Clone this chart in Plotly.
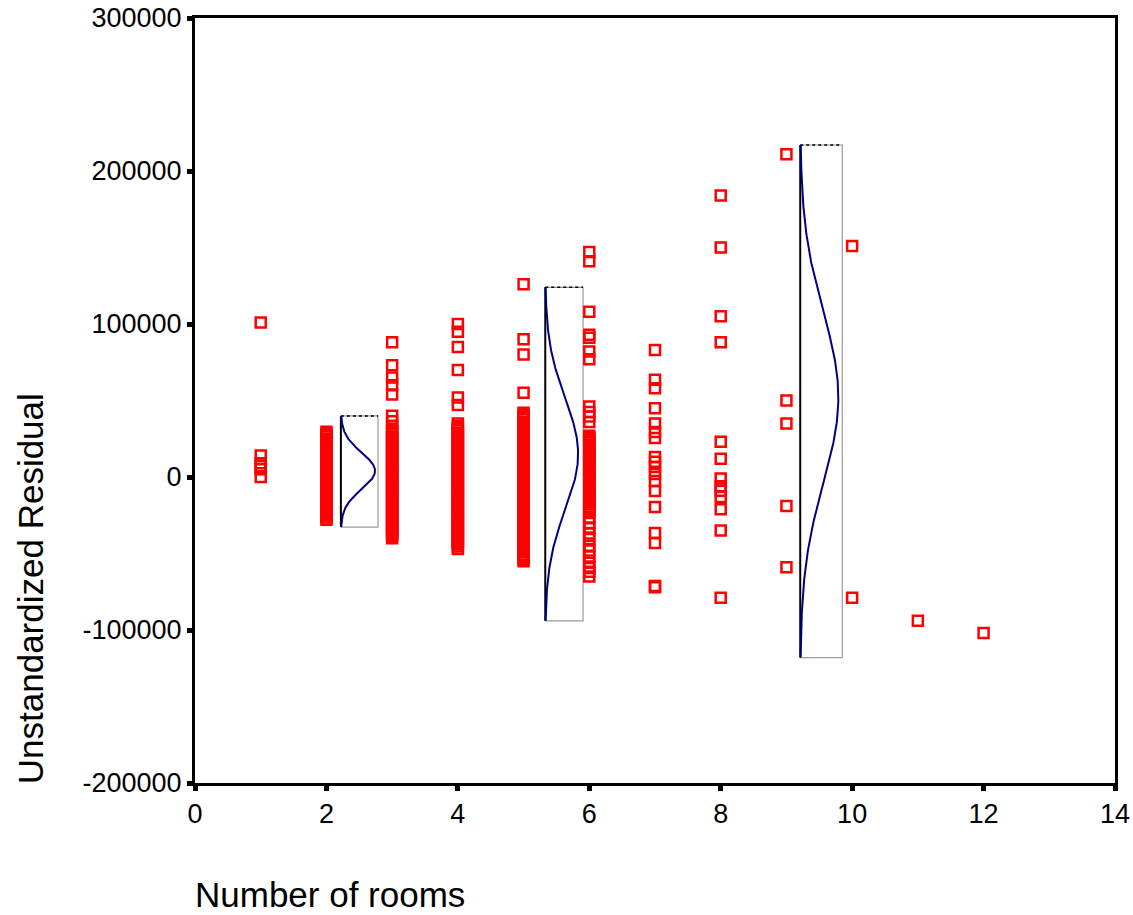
import plotly.graph_objects as go
import numpy as np

# ---- data: residuals by number of rooms ----
rooms_1 = [101000, 14000, 9000, 7000, 5000, 0]
rooms_2 = [29500, 28000, 26800, 25200, 24000, 22500, 21000, 19800, 18300, 17000, 15500, 14000,
           12800, 11200, 10000, 8500, 7000, 5800, 4300, 3000, 1500, 200, -1200, -2600, -4000,
           -5500, -6800, -8200, -9600, -11000, -12500, -13800, -15200, -16600, -18000, -19400,
           -20800, -22200, -23500, -25000, -26500, -28000]
rooms_3 = [88000, 73000, 65000, 60000, 54000, 40000, 36500, 33000, 31200, 29400, 28100, 26300,
           25000, 23600, 21900, 20700, 19100, 17600, 16200, 14800, 13100, 11900, 10300, 8800,
           7400, 5900, 4700, 3100, 1600, 300, -1100, -2700, -4000, -5600, -6900, -8400, -9800,
           -11300, -12700, -14200, -15500, -17100, -18400, -20000, -21300, -22900, -24200,
           -25800, -27100, -28700, -30000, -31600, -32900, -34500, -35800, -37400, -38600, -40000]
rooms_4 = [100000, 95000, 85000, 70000, 52000, 47000, 35000, 33400, 31900, 30600, 29000, 27700,
           26100, 24800, 23200, 21900, 20300, 19000, 17400, 16100, 14500, 13200, 11700, 10300,
           8800, 7500, 5900, 4600, 3000, 1700, 200, -1200, -2700, -4100, -5500, -7000, -8300,
           -9900, -11200, -12800, -14100, -15600, -17000, -18400, -19900, -21200, -22800,
           -24100, -25600, -27000, -28400, -29900, -31200, -32700, -34100, -35500, -37000,
           -38300, -39800, -41200, -42700, -44000, -45500, -47000]
rooms_5 = [126000, 90000, 80000, 55000, 42000, 40600, 39000, 37700, 36100, 34800, 33200, 31900,
           30300, 29000, 27400, 26100, 24500, 23200, 21600, 20300, 18700, 17400, 15800, 14500,
           12900, 11600, 10000, 8700, 7100, 5800, 4200, 2900, 1300, 0, -1600, -2900, -4500,
           -5800, -7400, -8700, -10300, -11600, -13200, -14500, -16100, -17400, -19000, -20300,
           -21900, -23200, -24800, -26100, -27700, -29000, -30600, -31900, -33500, -34800,
           -36400, -37700, -39300, -40600, -42200, -43500, -45100, -46400, -48000, -49300,
           -50900, -52200, -53700, -55000]
rooms_6 = [147000, 141000, 108000, 93000, 91000, 82000, 77000, 46000, 42500, 39500, 36000,
           27000, 25600, 24100, 22700, 21200, 19800, 18300, 16900, 15400, 14000, 12500, 11100,
           9600, 8200, 6700, 5300, 3800, 2400, 900, -500, -2000, -3400, -4900, -6300, -7800,
           -9200, -10700, -12100, -13600, -15000, -16500, -17900, -19400, -20800, -22300,
           -23000, -27000, -30000, -33000, -37000, -40500, -45000, -48000, -52000, -56000,
           -59500, -62000, -65000]
rooms_7 = [83000, 63500, 58000, 45000, 35000, 29400, 25500, 13000, 10000, 6500, 2000, -2600,
           -9100, -19600, -36600, -43100, -71200, -72000]
rooms_8 = [184000, 150000, 105000, 88000, 23000, 12000, -1000, -6000, -9000, -13000, -21000,
           -35000, -79000]
rooms_9 = [211000, 50000, 35000, -19000, -59000]
rooms_10 = [151000, -79000]
rooms_11 = [-94000]
rooms_12 = [-102000]

room_values = [1, 2, 3, 4, 5, 6, 7, 8, 9, 10, 11, 12]
residual_groups = [rooms_1, rooms_2, rooms_3, rooms_4, rooms_5, rooms_6, rooms_7, rooms_8,
                   rooms_9, rooms_10, rooms_11, rooms_12]

# normal-curve overlays (box left, box right, peak x, top, bottom, mean, sd)
ov_left = [2.22, 5.33, 9.21]
ov_right = [2.785, 5.905, 9.85]
ov_peak = [2.74, 5.83, 9.79]
ov_top = [39900, 124000, 217000]
ov_bottom = [-32700, -94000, -118000]
ov_mean = [4000, 15000, 52000]
ov_sd = [12000, 36500, 56000]

x_tickvals = [0, 2, 4, 6, 8, 10, 12, 14]
y_tickvals = [-200000, -100000, 0, 100000, 200000, 300000]
y_ticktext = ["-200000", "-100000", "0", "100000", "200000", "300000"]

FONT = "Liberation Sans, Arial, Helvetica, sans-serif"

xs, ys = [], []
for r, grp in zip(room_values, residual_groups):
    xs += [r] * len(grp)
    ys += grp

fig = go.Figure()

# overlays
for i in range(3):
    L, R, P, T, B, M, S = ov_left[i], ov_right[i], ov_peak[i], ov_top[i], ov_bottom[i], ov_mean[i], ov_sd[i]
    fig.add_trace(go.Scatter(x=[L, R, R, L], y=[T, T, B, B], mode="lines",
                             line=dict(color="#9a9a9a", width=1.2), hoverinfo="skip", showlegend=False))
    fig.add_trace(go.Scatter(x=[L, R], y=[T, T], mode="lines",
                             line=dict(color="black", width=1.5, dash="dot"), hoverinfo="skip", showlegend=False))
    fig.add_trace(go.Scatter(x=[L, L], y=[T, B], mode="lines",
                             line=dict(color="black", width=2), hoverinfo="skip", showlegend=False))
    yy = np.linspace(B, T, 200)
    xx = L + (P - L) * np.exp(-((yy - M) ** 2) / (2 * S ** 2))
    fig.add_trace(go.Scatter(x=xx, y=yy, mode="lines",
                             line=dict(color="#000080", width=2), hoverinfo="skip", showlegend=False))

fig.add_trace(go.Scatter(x=xs, y=ys, mode="markers",
                         marker=dict(symbol="square-open", size=10, color="#ff0000",
                                     line=dict(color="#ff0000", width=2.5)),
                         showlegend=False))

fig.update_layout(
    width=1133, height=915,
    margin=dict(l=195, r=18, t=18, b=132, autoexpand=False),
    paper_bgcolor="white", plot_bgcolor="white",
    font=dict(family=FONT, color="black"),
    showlegend=False,
)
fig.update_xaxes(range=[0, 14], tickvals=x_tickvals, ticks="outside", ticklen=5, tickwidth=5,
                 tickcolor="black", showline=True, linecolor="black", linewidth=3, mirror=True,
                 showgrid=False, zeroline=False, automargin=False,
                 tickfont=dict(size=27, family=FONT))
fig.update_yaxes(range=[-200000, 300000], tickvals=y_tickvals, ticktext=y_ticktext,
                 ticks="outside", ticklen=5, tickwidth=5, tickcolor="black",
                 showline=True, linecolor="black", linewidth=3, mirror=True,
                 showgrid=False, zeroline=False, automargin=False,
                 tickfont=dict(size=27, family=FONT))

fig.add_annotation(text="Unstandardized Residual", xref="paper", yref="paper",
                   x=-0.178, y=0.2536, xanchor="center", yanchor="middle", textangle=-90,
                   showarrow=False, font=dict(size=35, family=FONT, color="black"))
fig.add_annotation(text="Number of rooms", xref="paper", yref="paper",
                   x=-0.002, y=-0.1464, xanchor="left", yanchor="middle",
                   showarrow=False, font=dict(size=35, family=FONT, color="black"))

fig.write_html("out.html")
